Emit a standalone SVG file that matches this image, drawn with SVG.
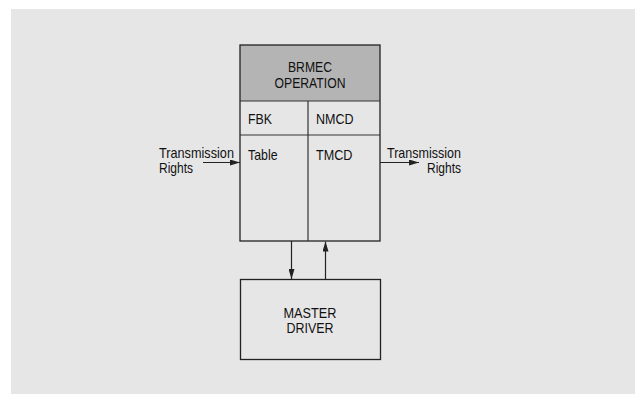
<svg xmlns="http://www.w3.org/2000/svg" width="641" height="394" viewBox="0 0 641 394">
<defs>
<style>
text{font-family:"Liberation Sans",Arial,sans-serif;font-size:14.5px;fill:#111}
.box{fill:none;stroke:#222;stroke-width:1.3}
.div{stroke:#333;stroke-width:1.2}
.conn{stroke:#222;stroke-width:1.2;fill:none}
</style>
<marker id="ah" viewBox="0 0 10 6" refX="10" refY="3" markerWidth="10" markerHeight="6" markerUnits="userSpaceOnUse" orient="auto">
<path d="M0,0 L10,3 L0,6 z" fill="#222"/>
</marker>
</defs>
<rect x="0" y="0" width="641" height="394" fill="#ffffff"/>
<rect x="11" y="9" width="624" height="385" fill="#e6e6e6"/>
<g id="brmec">
<rect x="240" y="45" width="140" height="56" fill="#b4b4b4"/>
<rect class="box" x="240" y="45" width="140" height="196"/>
<line class="div" x1="240" y1="101" x2="380" y2="101"/>
<line class="div" x1="240" y1="135" x2="380" y2="135"/>
<line class="div" x1="308" y1="101" x2="308" y2="241"/>
<text x="310" y="72" text-anchor="middle" textLength="44" lengthAdjust="spacingAndGlyphs">BRMEC</text>
<text x="310" y="87.5" text-anchor="middle" textLength="71" lengthAdjust="spacingAndGlyphs">OPERATION</text>
<text x="248" y="123.5" textLength="24" lengthAdjust="spacingAndGlyphs">FBK</text>
<text x="316" y="123.5" textLength="37.5" lengthAdjust="spacingAndGlyphs">NMCD</text>
<text x="248" y="159.5" textLength="29.5" lengthAdjust="spacingAndGlyphs">Table</text>
<text x="316" y="159.5" textLength="36.5" lengthAdjust="spacingAndGlyphs">TMCD</text>
</g>
<g id="master">
<rect class="box" x="240.5" y="279.5" width="140" height="80"/>
<text x="310" y="317.5" text-anchor="middle" textLength="53" lengthAdjust="spacingAndGlyphs">MASTER</text>
<text x="310" y="333" text-anchor="middle" textLength="47" lengthAdjust="spacingAndGlyphs">DRIVER</text>
</g>
<g id="in-label">
<text x="159" y="158" textLength="75" lengthAdjust="spacingAndGlyphs">Transmission</text>
<text x="159" y="172.5" textLength="34" lengthAdjust="spacingAndGlyphs">Rights</text>
</g>
<g id="out-label">
<text x="387" y="158" textLength="74" lengthAdjust="spacingAndGlyphs">Transmission</text>
<text x="461" y="172.5" text-anchor="end" textLength="34" lengthAdjust="spacingAndGlyphs">Rights</text>
</g>
<g id="connectors">
<line class="conn" x1="203" y1="162.5" x2="240" y2="162.5" marker-end="url(#ah)"/>
<line class="conn" x1="380" y1="162.5" x2="419" y2="162.5" marker-end="url(#ah)"/>
<line class="conn" x1="291.5" y1="241" x2="291.5" y2="279" marker-end="url(#ah)"/>
<line class="conn" x1="325.5" y1="279" x2="325.5" y2="241.5" marker-end="url(#ah)"/>
</g>
</svg>
